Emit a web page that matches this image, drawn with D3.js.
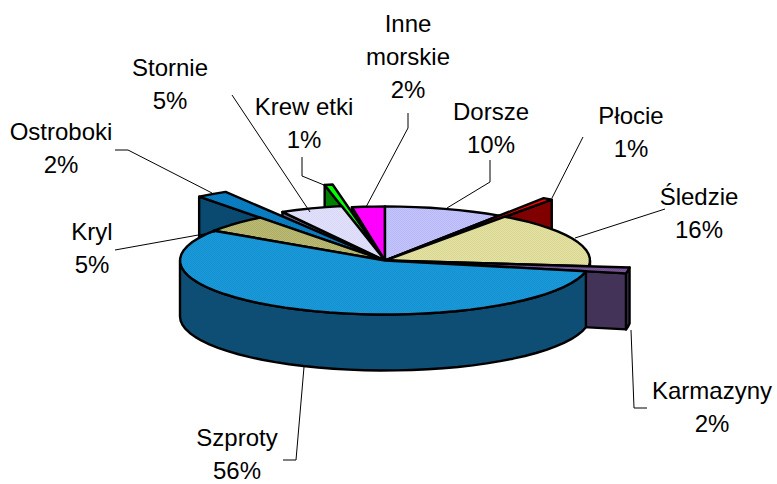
<!DOCTYPE html>
<html><head><meta charset="utf-8">
<style>html,body{margin:0;background:#fff}svg{display:block}text{font-family:"Liberation Sans",Arial,sans-serif;font-size:24px;fill:#000}</style>
<script src="https://cdn.jsdelivr.net/npm/d3@7"></script></head><body><script>
const categories=["Dorsze","Płocie","Śledzie","Karmazyny","Szproty","Kryl","Ostroboki","Stornie","Krewetki","Inne morskie"];
const values=[9.4,0.55,16.77,1.47,56.1,5.3,1.67,5.44,0.44,2.86];
const percentLabels=["10%","1%","16%","2%","56%","5%","2%","5%","1%","2%"];
const labelLines=[["Dorsze"],["Płocie"],["Śledzie"],["Karmazyny"],["Szproty"],["Kryl"],["Ostroboki"],["Stornie"],["Krew etki"],["Inne","morskie"]];
const reach=[1,1.39,1,1.2,1,1,1.49,1.03,1.43,1];
const startTrimDeg=[0,0,0,0,0,0,0,2.4,0,1];
const topA=["#c4c4ff","#ff0000","#e4e2a4","#7b5a9b","#1b9ad9","#bcbc78","#0a80c4","#e2e2fc","#00ff00","#ff00ff"];
const topB=["#b8b8f4","#ff0000","#d8d690","#6f4f8f","#1590d0","#acac62","#0a78bc","#d8d8f6","#00ff00","#ff00ff"];
const wallA=["#7070a0","#800000","#80805a","#443358","#0e4e74","#66663c","#0a4a70","#66668a","#008000","#800080"];
const labelX=[491,631,699,712,237,92,61,170,304,408];
const labelY=[120,124,205,399,446,240,140,76,115,32];
const leaders=[
 [[490,160],[490,182],[447,208]],
 [[583,137],[552,198]],
 [[665,209],[575,238]],
 [[631,330],[634,408],[647,408]],
 [[304,367],[296,460],[283,460]],
 [[115,250],[215,232]],
 [[115,150],[128,150],[212,193]],
 [[232,95],[310,212]],
 [[302,157],[302,176],[324,185]],
 [[408,113],[408,128],[366,207]]
];
const W=777,H=484,cx=385,cy=260.5,depth=56;
const sx=d3.scaleLinear().domain([-1,1]).range([cx-205,cx+205]);
const sy=d3.scaleLinear().domain([-1,1]).range([cy-54,cy+54]);
const svg=d3.select("body").append("svg").attr("width",W).attr("height",H);
const defs=svg.append("defs");
categories.forEach((c,i)=>{
 const p=defs.append("pattern").attr("id","tex"+i).attr("width",2).attr("height",2).attr("patternUnits","userSpaceOnUse");
 p.append("rect").attr("width",2).attr("height",2).attr("fill",topA[i]);
 p.append("rect").attr("width",1).attr("height",1).attr("fill",topB[i]);
 p.append("rect").attr("x",1).attr("y",1).attr("width",1).attr("height",1).attr("fill",topB[i]);
});
const arcs=d3.pie().sort(null).value(d=>d)(values).map((a,i)=>({...a,i,
 a0:a.startAngle+startTrimDeg[i]*Math.PI/180,a1:a.endAngle,r:reach[i]}));
const pt=(t,r,dz=0)=>[sx(Math.sin(t)*r),sy(-Math.cos(t)*r)+dz];
const line=d3.line();
const arcPts=(d,a,b,dz=0)=>{const n=Math.max(1,Math.ceil((b-a)/(Math.PI/40)));
 return d3.range(n+1).map(k=>pt(a+(b-a)*k/n,d.r,dz));};
const order=arcs.slice().sort((p,q)=>Math.cos((q.a0+q.a1)/2)-Math.cos((p.a0+p.a1)/2));
const poly=(g,pts,fill)=>g.append("path").attr("d",line(pts)+"Z").attr("fill",fill)
 .attr("stroke","#000").attr("stroke-width",2.4).attr("stroke-linejoin","round");
order.forEach(d=>{
 const g=svg.append("g").attr("class","slice");
 const c0=pt(0,0),c1=[c0[0],c0[1]+depth];
 if(Math.sin(d.a0)<0){const p=pt(d.a0,d.r),q=pt(d.a0,d.r,depth);poly(g,[c0,p,q,c1],wallA[d.i]);}
 if(Math.sin(d.a1)>0){const p=pt(d.a1,d.r),q=pt(d.a1,d.r,depth);poly(g,[c0,p,q,c1],wallA[d.i]);}
 const lo=Math.max(d.a0,Math.PI/2),hi=Math.min(d.a1,3*Math.PI/2);
 if(hi>lo){poly(g,arcPts(d,lo,hi).concat(arcPts(d,lo,hi,depth).reverse()),wallA[d.i]);}
 poly(g,[c0].concat(arcPts(d,d.a0,d.a1)),`url(#tex${d.i})`);
});
svg.append("g").selectAll("path").data(leaders).join("path").attr("d",d=>line(d))
 .attr("fill","none").attr("stroke","#000").attr("stroke-width",1);
const lh=33;
const tg=svg.append("g").attr("text-anchor","middle");
categories.forEach((c,i)=>{
 const lines=labelLines[i].concat([percentLabels[i]]);
 const t=tg.append("text").attr("x",labelX[i]).attr("y",labelY[i]);
 lines.forEach((s,k)=>t.append("tspan").attr("x",labelX[i]).attr("dy",k?lh:0).text(s));
});
</script></body></html>
